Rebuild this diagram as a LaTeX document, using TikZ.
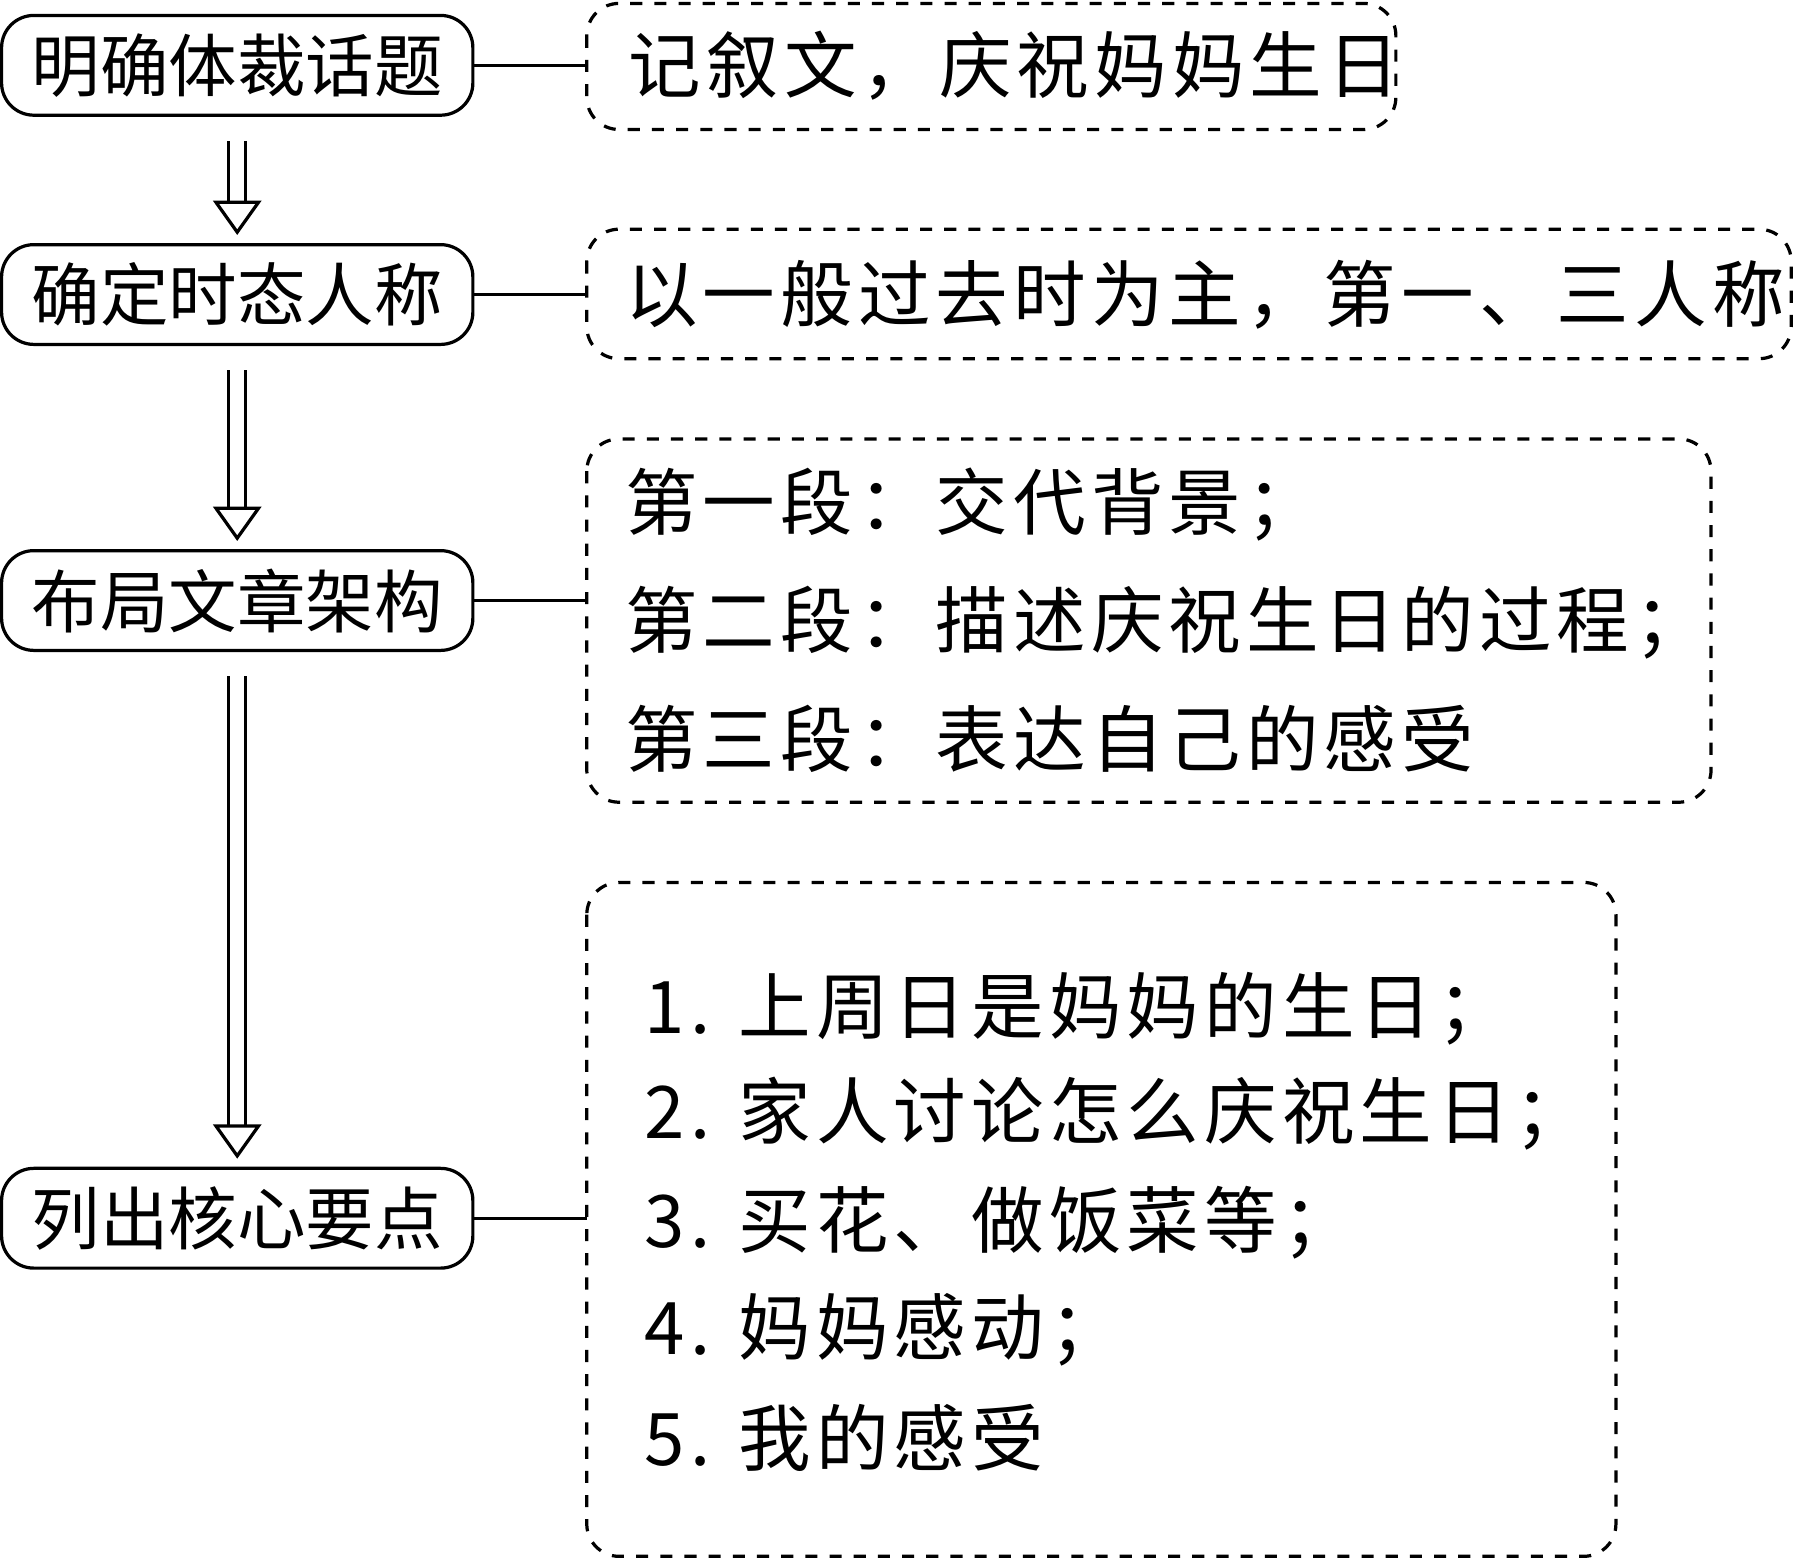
\documentclass[tikz,border=0pt]{standalone}
\usepackage{fontspec}
\setmainfont{Noto Sans CJK SC}
\newfontfamily\widecjk[LetterSpace=7]{Noto Sans CJK SC}
\usetikzlibrary{arrows.meta}
\tikzset{
  stepbox/.style={draw, thick, rounded corners=8pt, minimum width=4.11cm, minimum height=0.87cm, inner sep=0pt, font=\fontsize{17}{20}\selectfont},
  notebox/.style={draw, thick, dashed, rounded corners=8pt, inner sep=0pt},
  notetext/.style={anchor=west, inner sep=0pt, font=\widecjk\fontsize{18}{22}\selectfont},
  flow/.style={double, double distance=1.2mm, thick, shorten <=6pt, shorten >=2pt, -{Triangle[open, length=3mm, width=4.2mm]}}
}
\begin{document}
\begin{tikzpicture}[x=0.01cm, y=-0.01cm]
        \useasboundingbox (0,0) rectangle (1568,1361);

        % Left column
        \node[stepbox] (topic) at (207,57) {明确体裁话题};
        \node[stepbox] (tense) at (207,257) {确定时态人称};
        \node[stepbox] (frame) at (207,524) {布局文章架构};
        \node[stepbox] (points) at (207,1063) {列出核心要点};

        % Arrows
        \draw[flow] (topic.south) -- (tense.north);
        \draw[flow] (tense.south) -- (frame.north);
        \draw[flow] (frame.south) -- (points.north);

        % Dashed boxes
        \draw[notebox] (512,3) rectangle (1218,113);
        \draw[notebox] (512,200) rectangle (1563,313);
        \draw[notebox] (512,383) rectangle (1493,700);
        \draw[notebox] (512,770) rectangle (1410,1358);
        \coordinate (n1) at (512,57);
        \coordinate (n2) at (512,257);
        \coordinate (n3) at (512,524);
        \coordinate (n4) at (512,1063);

        \draw[thick] (topic.east) -- (n1);
        \draw[thick] (tense.east) -- (n2);
        \draw[thick] (frame.east) -- (n3);
        \draw[thick] (points.east) -- (n4);

        % Texts
        \node[notetext] (t1) at (548,57) {记叙文，庆祝妈妈生日};
        \node[notetext] (t2) at (545,257) {以一般过去时为主，第一、三人称};
        \node[notetext] (t3a) at (545,440) {第一段：交代背景；};
        \node[notetext] (t3b) at (545,543) {第二段：描述庆祝生日的过程；};
        \node[notetext] (t3c) at (545,645) {第三段：表达自己的感受};
        \node[notetext] (t4a) at (562,880) {1. 上周日是妈妈的生日；};
        \node[notetext] (t4b) at (562,972) {2. 家人讨论怎么庆祝生日；};
        \node[notetext] (t4c) at (562,1067) {3. 买花、做饭菜等；};
        \node[notetext] (t4d) at (562,1160) {4. 妈妈感动；};
        \node[notetext] (t4e) at (562,1255) {5. 我的感受};
    \end{tikzpicture}
\end{document}
